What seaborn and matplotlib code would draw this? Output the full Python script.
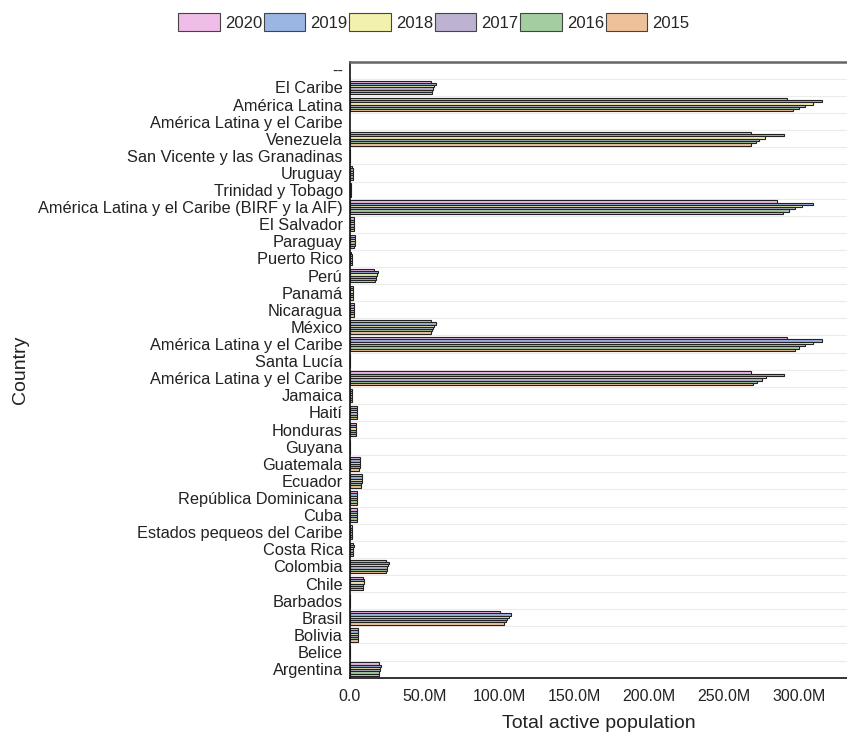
import numpy as np
import pandas as pd
import matplotlib
matplotlib.use('Agg')
import matplotlib.pyplot as plt
import seaborn as sns
from matplotlib.ticker import FuncFormatter, MultipleLocator

# categories, top to bottom as shown
countries = [
    '--', 'El Caribe', 'América Latina', 'América Latina y el Caribe', 'Venezuela',
    'San Vicente y las Granadinas', 'Uruguay', 'Trinidad y Tobago',
    'América Latina y el Caribe (BIRF y la AIF)', 'El Salvador', 'Paraguay',
    'Puerto Rico', 'Perú', 'Panamá', 'Nicaragua', 'México',
    'América Latina y el Caribe', 'Santa Lucía', 'América Latina y el Caribe',
    'Jamaica', 'Haití', 'Honduras', 'Guyana', 'Guatemala', 'Ecuador',
    'República Dominicana', 'Cuba', 'Estados pequeos del Caribe', 'Costa Rica',
    'Colombia', 'Chile', 'Barbados', 'Brasil', 'Bolivia', 'Belice', 'Argentina',
]
years = ['2020', '2019', '2018', '2017', '2016', '2015']

# values in millions (same row order as countries)
v2020 = [np.nan, 54.5, 292, np.nan, 268, 0.05, 1.7, 0.6, 285, 2.9, 3.4, 1.1, 16.0, 2.0, 3.0, 54.0,
         292, 0.10, 268, 1.4, 4.9, 4.1, 0.30, 6.8, 8.0, 4.9, 5.0, 1.6, 2.3, 24.0, 8.5, 0.15, 100.0, 5.6, 0.17, 19.5]
v2019 = [np.nan, 57.5, 315, np.nan, 290, 0.05, 1.8, 0.65, 309, 3.1, 3.5, 1.2, 18.5, 2.1, 3.1, 57.5,
         315, 0.10, 290, 1.5, 5.0, 4.3, 0.32, 7.0, 8.3, 5.1, 5.1, 1.7, 2.5, 26.0, 9.5, 0.15, 107.5, 5.8, 0.18, 20.5]
v2018 = [np.nan, 56.5, 309, np.nan, 277, 0.05, 1.8, 0.65, 302, 3.0, 3.4, 1.2, 18.0, 2.0, 3.0, 56.5,
         309, 0.10, 278, 1.5, 4.9, 4.2, 0.31, 6.9, 8.2, 5.0, 5.1, 1.7, 2.4, 25.5, 9.3, 0.15, 106.0, 5.7, 0.17, 20.2]
v2017 = [np.nan, 55.8, 304, np.nan, 273, 0.05, 1.8, 0.64, 297, 3.0, 3.3, 1.2, 17.6, 2.0, 3.0, 55.5,
         304, 0.10, 275, 1.4, 4.8, 4.1, 0.31, 6.7, 8.0, 4.9, 5.1, 1.7, 2.4, 25.0, 9.1, 0.15, 105.0, 5.6, 0.17, 19.9]
v2016 = [np.nan, 55.2, 300, np.nan, 271, 0.05, 1.8, 0.63, 293, 2.9, 3.2, 1.2, 17.2, 1.9, 2.9, 54.8,
         300, 0.10, 272, 1.4, 4.7, 4.0, 0.30, 6.5, 7.8, 4.8, 5.1, 1.6, 2.3, 24.6, 8.9, 0.15, 104.0, 5.4, 0.16, 19.6]
v2015 = [np.nan, 54.6, 296, np.nan, 268, 0.05, 1.8, 0.62, 289, 2.9, 3.1, 1.2, 16.8, 1.9, 2.9, 54.0,
         297, 0.10, 269, 1.4, 4.6, 3.9, 0.30, 6.3, 7.6, 4.7, 5.0, 1.6, 2.3, 24.2, 8.7, 0.15, 103.0, 5.3, 0.16, 19.3]

palette = ['#f9b3ee', '#8fb3ef', '#fdfca3', '#bcadd6', '#9dd59a', '#fdc08d']

series = [v2020, v2019, v2018, v2017, v2016, v2015]
rows = []
for yr, vals in zip(years, series):
    for i, v in enumerate(vals):
        rows.append({'row': i, 'year': yr, 'value': v})
df = pd.DataFrame(rows)

sns.set_style('white')
plt.rcParams['font.family'] = ['Liberation Sans', 'DejaVu Sans']

fig = plt.figure(figsize=(8.47, 7.35), dpi=100)
ax = fig.add_axes([0.413, 0.078, 0.587, 0.838])

sns.barplot(data=df, x='value', y='row', hue='year', hue_order=years, orient='h',
            palette=palette, order=list(range(len(countries))), width=0.8,
            edgecolor='#222222', linewidth=0.8, errorbar=None, ax=ax, legend=True)

ax.set_xlim(0, 332)
ax.set_ylim(len(countries) - 0.5, -0.5)

ax.set_yticks(range(len(countries)))
ax.set_yticklabels(countries, fontsize=11.8, color='#222222')
ax.set_yticks(np.arange(-0.5, len(countries), 1.0), minor=True)
ax.tick_params(axis='y', which='major', length=0, pad=5)
ax.tick_params(axis='y', which='minor', length=4, width=1, direction='out', color='#222222')
ax.grid(axis='y', which='minor', color='#ececec', linewidth=0.8)
ax.set_axisbelow(True)

ax.xaxis.set_major_locator(MultipleLocator(50))
ax.xaxis.set_minor_locator(MultipleLocator(10))
ax.xaxis.set_major_formatter(FuncFormatter(lambda v, p: '0.0' if v == 0 else f'{v:.1f}M'))
ax.tick_params(axis='x', which='major', length=6, width=1, direction='out', labelsize=11.5,
               color='#222222', labelcolor='#222222', pad=2)
ax.tick_params(axis='x', which='minor', length=3, width=1, direction='out', color='#222222')

ax.set_xlabel('Total active population', fontsize=14, color='#222222', labelpad=8)
ax.set_ylabel('Country', fontsize=14, color='#222222')
ax.yaxis.set_label_coords(-0.645, 0.5)

for side in ['left', 'bottom']:
    ax.spines[side].set_color('#111111')
    ax.spines[side].set_linewidth(1.2)
ax.spines['top'].set_color('#666666')
ax.spines['top'].set_linewidth(1.8)
ax.spines['right'].set_visible(False)

handles, labels = ax.get_legend_handles_labels()
ax.get_legend().remove()
for h in handles:
    h.set_edgecolor('#444444')
    h.set_linewidth(0.8)
fig.legend(handles, labels, loc='center', bbox_to_anchor=(0.512, 0.97), ncol=6, frameon=False,
           fontsize=12, handlelength=2.5, handleheight=1.3, handletextpad=0.3, columnspacing=0.1)

fig.savefig('out.png', dpi=100)
